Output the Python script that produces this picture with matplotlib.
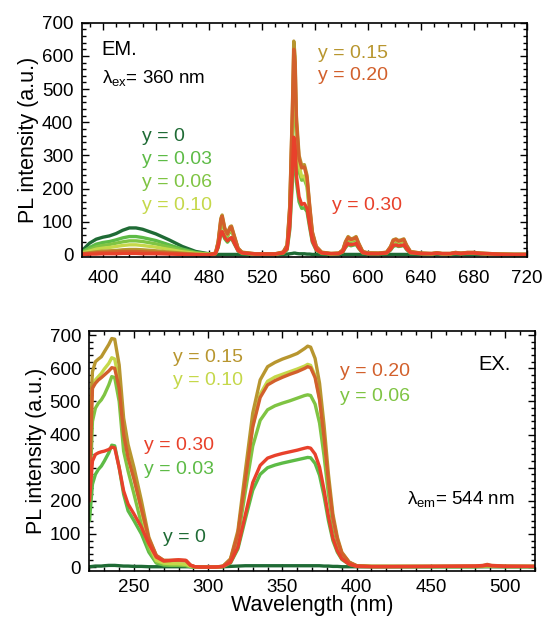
import matplotlib
matplotlib.use("Agg")
import matplotlib.pyplot as plt
from matplotlib.ticker import MultipleLocator

plt.rcParams['font.family'] = ['Liberation Sans', 'DejaVu Sans']
plt.rcParams['mathtext.fontset'] = 'custom'
plt.rcParams['mathtext.rm'] = 'Liberation Sans'
plt.rcParams['mathtext.it'] = 'Liberation Sans:italic'
plt.rcParams['mathtext.bf'] = 'Liberation Sans:bold'

# ---------------- series names and colours ----------------
series = ["y = 0", "y = 0.03", "y = 0.06", "y = 0.10", "y = 0.15", "y = 0.20", "y = 0.30"]
colors = ["#1f6b35", "#5dbb46", "#7fc443", "#c5d84a", "#b8962f", "#d2602c", "#e8412b"]

# ---------------- emission spectra (lambda_ex = 360 nm) ----------------
em_wl = [380, 385, 390, 395, 400, 405, 410, 415, 420, 425, 430, 440, 450, 460, 470, 480,
         485, 487, 489, 490, 492, 494, 496, 497, 499, 502, 505,
         515, 530, 536, 539, 541, 543, 544, 545, 546, 548, 550, 552, 554, 556, 558, 561, 565,
         572, 578, 581, 583, 585, 587, 589, 591, 593, 596, 600,
         608, 614, 617, 619, 621, 623, 625, 627, 629, 632,
         640, 648, 652, 656, 662, 666, 670, 675, 680, 685, 690, 700, 710, 720]

em_y000 = [8, 15, 35, 47, 53, 57, 64, 74, 81, 81, 77, 63, 45, 25, 10, 3,
           1, 1, 1, 1, 1, 1, 1, 1, 1, 1, 1,
           1, 1, 1, 2, 3, 4, 5, 5, 4, 3, 3, 3, 2, 2, 1, 1, 1,
           1, 1, 1, 1, 1, 1, 1, 1, 1, 1, 1,
           1, 1, 1, 1, 1, 1, 1, 1, 1, 1,
           1, 1, 1, 1, 1, 1, 1, 1, 1, 1, 1, 1, 1, 1]
em_y003 = [5, 10, 22, 32, 37, 40, 45, 51, 55, 55, 52, 43, 30, 17, 7, 2,
           3, 22, 62, 66, 48, 38, 48, 50, 34, 11, 4,
           1, 1, 4, 15, 75, 220, 320, 300, 220, 160, 140, 142, 130, 82, 38, 13, 4,
           2, 3, 8, 22, 31, 27, 29, 31, 19, 5, 3,
           3, 4, 14, 25, 28, 25, 26, 28, 16, 5,
           3, 2, 4, 2, 2, 4, 3, 4, 4, 3, 2, 1, 0, 0]
em_y006 = [4, 8, 16, 24, 28, 31, 35, 39, 42, 42, 40, 33, 23, 13, 5, 2,
           4, 33, 92, 100, 68, 55, 72, 74, 50, 16, 6,
           2, 2, 6, 24, 120, 360, 510, 480, 350, 250, 225, 228, 205, 128, 58, 20, 6,
           3, 4, 12, 33, 46, 40, 42, 46, 28, 8, 4,
           4, 6, 20, 37, 40, 36, 38, 40, 24, 8,
           4, 3, 5, 3, 3, 6, 4, 6, 6, 4, 3, 2, 1, 1]
em_y010 = [3, 6, 11, 17, 20, 22, 25, 28, 30, 30, 28, 23, 16, 9, 4, 1,
           4, 36, 100, 110, 74, 60, 78, 80, 55, 18, 6,
           2, 2, 7, 26, 135, 400, 570, 530, 380, 270, 235, 238, 215, 135, 62, 22, 6,
           3, 4, 13, 36, 50, 44, 46, 50, 31, 8, 5,
           4, 7, 22, 40, 44, 39, 41, 44, 26, 8,
           4, 3, 5, 3, 3, 6, 4, 6, 6, 4, 3, 2, 1, 1]
em_y015 = [2, 4, 6, 9, 11, 12, 13, 15, 16, 16, 15, 12, 8, 5, 2, 1,
           5, 40, 110, 120, 80, 65, 85, 87, 60, 20, 8,
           3, 3, 8, 30, 150, 450, 645, 600, 420, 300, 270, 272, 240, 150, 70, 25, 8,
           4, 5, 15, 40, 55, 48, 50, 55, 35, 10, 6,
           5, 8, 25, 45, 48, 43, 45, 48, 30, 10,
           5, 4, 6, 4, 4, 7, 5, 7, 7, 5, 4, 2, 1, 1]
em_y020 = [1, 3, 4, 6, 7, 8, 9, 10, 10, 10, 9, 7, 5, 3, 1, 0,
           5, 38, 105, 116, 78, 62, 82, 84, 57, 19, 7,
           3, 3, 8, 28, 145, 440, 620, 580, 400, 290, 262, 265, 232, 145, 67, 24, 7,
           4, 5, 14, 38, 52, 46, 48, 52, 33, 9, 5,
           5, 7, 24, 43, 46, 41, 43, 46, 28, 9,
           5, 4, 6, 4, 4, 7, 5, 7, 7, 5, 4, 2, 1, 1]
em_y030 = [0, 1, 2, 2, 3, 3, 3, 4, 4, 4, 3, 3, 2, 1, 0, 0,
           3, 24, 65, 70, 52, 42, 50, 52, 36, 12, 5,
           2, 2, 5, 18, 85, 250, 355, 330, 240, 175, 152, 155, 140, 90, 42, 15, 5,
           3, 3, 9, 24, 34, 30, 32, 34, 21, 6, 3,
           3, 5, 16, 28, 30, 27, 28, 30, 18, 6,
           3, 3, 4, 3, 3, 5, 3, 5, 5, 3, 3, 1, 1, 1]

# ---------------- excitation spectra (lambda_em = 544 nm) ----------------
ex_wl = [220, 222, 224, 226, 228, 230, 233, 235, 237,
         240, 243, 246, 250, 255, 260, 265, 270, 275, 280, 285, 288, 291, 295,
         300, 305, 310, 315, 320, 325, 330, 335, 340, 345, 350, 355, 360, 365, 367, 369,
         372, 375, 378, 381, 384, 387, 390, 395, 400,
         410, 420, 450, 480, 485, 488, 491, 500, 520]

ex_y000 = [1, 2, 3, 3, 3, 4, 5, 5, 5,
           4, 3, 3, 2, 2, 1, 1, 1, 1, 1, 1, 1, 1, 1,
           1, 1, 1, 2, 3, 4, 4, 4, 4, 4, 4, 4, 4, 4, 4, 4,
           4, 4, 3, 3, 2, 2, 1, 1, 1,
           1, 1, 1, 1, 1, 1, 1, 1, 1]
ex_y003 = [140, 250, 280, 295, 305, 320, 345, 368, 366,
           300, 220, 170, 140, 100, 45, 12, 6, 5, 5, 4, 1, 0, 0,
           0, 0, 1, 12, 55, 145, 232, 280, 300, 308, 314, 319, 324, 329, 331, 330,
           313, 277, 215, 140, 80, 45, 23, 8, 2,
           1, 1, 1, 1, 2, 3, 2, 1, 1]
ex_y006 = [200, 440, 480, 495, 505, 520, 550, 575, 572,
           500, 350, 290, 220, 130, 55, 15, 8, 6, 6, 5, 2, 0, 0,
           0, 0, 2, 19, 86, 228, 365, 443, 475, 487, 495, 502, 510, 518, 520, 518,
           492, 435, 337, 220, 126, 71, 36, 12, 3,
           2, 2, 2, 2, 2, 3, 2, 2, 2]
ex_y010 = [380, 540, 565, 575, 585, 598, 615, 632, 628,
           560, 410, 335, 270, 170, 70, 20, 12, 10, 10, 8, 3, 1, 0,
           0, 0, 2, 22, 100, 266, 428, 522, 561, 574, 582, 590, 598, 607, 612, 609,
           578, 510, 395, 258, 148, 83, 42, 14, 4,
           2, 2, 2, 2, 3, 4, 3, 2, 2]
ex_y015 = [420, 590, 620, 628, 635, 650, 672, 690, 688,
           610, 450, 370, 300, 200, 90, 35, 20, 20, 20, 18, 5, 1, 0,
           0, 0, 3, 25, 110, 290, 465, 565, 605, 618, 628, 636, 645, 660, 667, 664,
           630, 555, 430, 280, 160, 90, 45, 15, 4,
           2, 2, 2, 2, 3, 5, 3, 2, 2]
ex_y020 = [250, 540, 555, 565, 572, 580, 592, 602, 600,
           540, 400, 330, 265, 175, 85, 35, 20, 20, 21, 20, 6, 1, 0,
           0, 0, 2, 22, 100, 262, 423, 512, 550, 563, 573, 582, 590, 600, 605, 602,
           572, 505, 392, 256, 147, 83, 42, 14, 4,
           2, 2, 2, 3, 5, 8, 5, 3, 2]
ex_y030 = [200, 320, 340, 345, 348, 350, 355, 362, 360,
           300, 230, 190, 160, 120, 70, 30, 18, 20, 22, 20, 6, 1, 0,
           0, 0, 2, 14, 60, 158, 255, 307, 329, 337, 343, 348, 353, 359, 361, 359,
           341, 302, 234, 153, 87, 49, 25, 8, 2,
           1, 1, 2, 3, 4, 6, 4, 2, 2]

em_data = [em_y000, em_y003, em_y006, em_y010, em_y015, em_y020, em_y030]
ex_data = [ex_y000, ex_y003, ex_y006, ex_y010, ex_y015, ex_y020, ex_y030]

# ---------------- figure ----------------
fig = plt.figure(figsize=(5.44, 6.18), dpi=100)
ax1 = fig.add_axes([0.150, 0.584, 0.819, 0.379])
ax2 = fig.add_axes([0.1645, 0.076, 0.8185, 0.388])

LW = 2.4
for vals, c in zip(em_data, colors):
    ax1.plot(em_wl, vals, color=c, lw=LW, solid_joinstyle='round', solid_capstyle='round')
for vals, c in zip(ex_data, colors):
    ax2.plot(ex_wl, vals, color=c, lw=LW, solid_joinstyle='round', solid_capstyle='round')


def style(ax, xmaj, xmin):
    ax.xaxis.set_major_locator(MultipleLocator(xmaj))
    ax.xaxis.set_minor_locator(MultipleLocator(xmin))
    ax.yaxis.set_major_locator(MultipleLocator(100))
    ax.yaxis.set_minor_locator(MultipleLocator(20))
    ax.tick_params(which='both', direction='in', top=True, right=True, width=1.0,
                   labelsize=13.5, colors='black')
    ax.tick_params(which='major', length=5)
    ax.tick_params(which='minor', length=2.8)
    ax.tick_params(axis='y', pad=6)
    for s in ax.spines.values():
        s.set_linewidth(1.2)
    ax.set_ylabel("PL intensity (a.u.)", fontsize=15.5, labelpad=2)


style(ax1, 40, 10)
ax1.set_xlim(384, 720)
ax1.set_ylim(-7, 700)
ax1.tick_params(axis='x', pad=9)

style(ax2, 50, 10)
ax2.set_xlim(220, 520)
ax2.set_ylim(-12, 712)
ax2.tick_params(axis='x', pad=6)
ax2.set_xlabel("Wavelength (nm)", fontsize=15.5, labelpad=-1)

# ---------------- annotations: emission panel ----------------
ax1.text(0.045, 0.885, "EM.", transform=ax1.transAxes, fontsize=14.5, va='center', ha='left')
ax1.text(0.045, 0.765, r"$\mathrm{\lambda_{ex}}$= 360 nm", transform=ax1.transAxes,
         fontsize=13.5, va='center', ha='left')
em_labels = [(0, 0.135, 0.514), (1, 0.135, 0.415), (2, 0.135, 0.318), (3, 0.135, 0.222),
             (4, 0.530, 0.870), (5, 0.530, 0.774), (6, 0.561, 0.222)]
for i, xf, yf in em_labels:
    ax1.text(xf, yf, series[i], color=colors[i], transform=ax1.transAxes,
             fontsize=14, va='center', ha='left')

# ---------------- annotations: excitation panel ----------------
ax2.text(0.947, 0.861, "EX.", transform=ax2.transAxes, fontsize=14.5, va='center', ha='right')
ax2.text(0.954, 0.299, r"$\mathrm{\lambda_{em}}$= 544 nm", transform=ax2.transAxes,
         fontsize=13.5, va='center', ha='right')
ex_labels = [(4, 0.187, 0.890), (3, 0.187, 0.796), (6, 0.122, 0.522), (1, 0.122, 0.425),
             (0, 0.166, 0.140), (5, 0.563, 0.833), (2, 0.563, 0.729)]
for i, xf, yf in ex_labels:
    ax2.text(xf, yf, series[i], color=colors[i], transform=ax2.transAxes,
             fontsize=14, va='center', ha='left')

fig.savefig("out.png", dpi=100)
